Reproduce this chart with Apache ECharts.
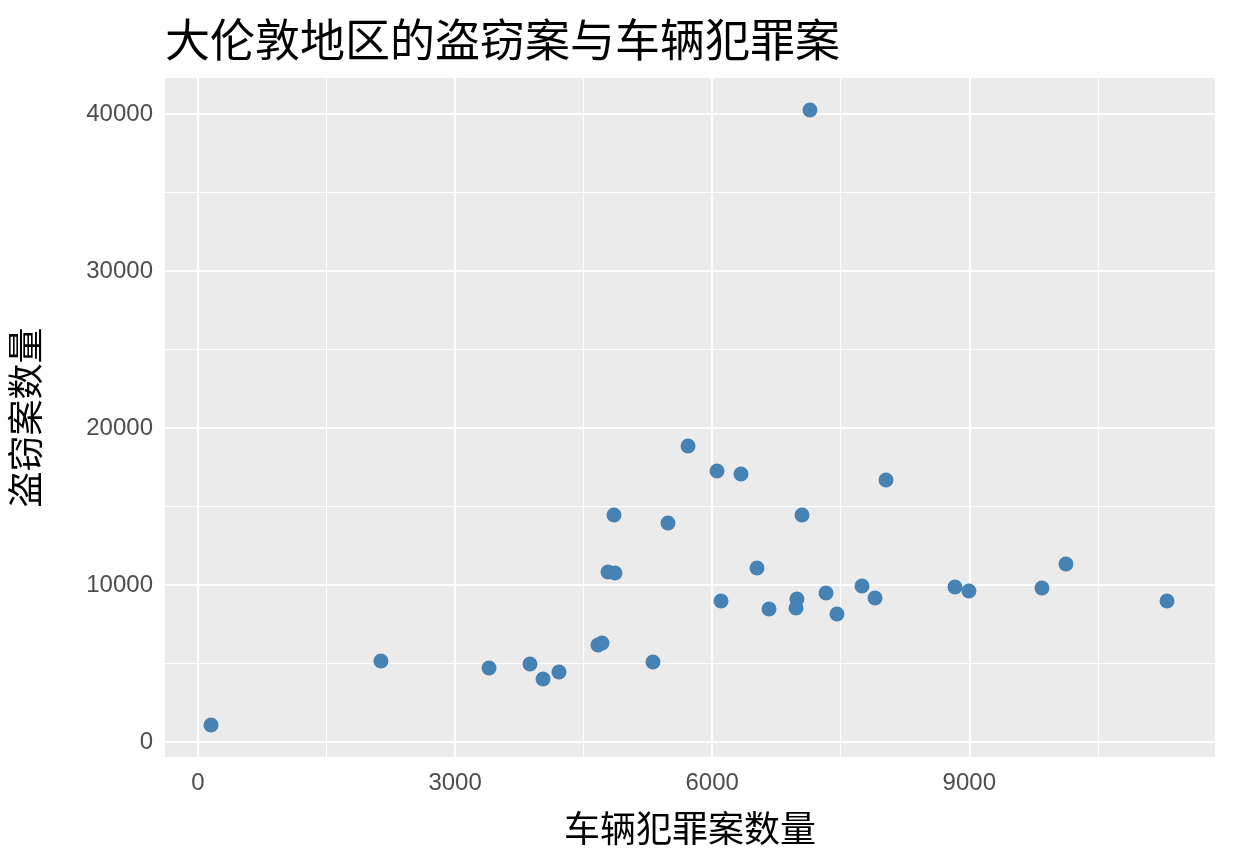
<!DOCTYPE html>
<html>
<head>
<meta charset="utf-8">
<script src="https://cdn.jsdelivr.net/npm/echarts@6/dist/echarts.min.js"></script>
<style>html,body{margin:0;background:#fff}#main{width:1234px;height:864px}</style>
</head>
<body>
<div id="main"></div>
<script>
// 车辆犯罪案数量, 盗窃案数量
var vehicle = [152, 2135, 3396, 3874, 4026, 4212, 4667, 4714, 4784, 4866, 4854, 5309, 5484, 5718, 6056, 6103, 6336, 6523, 6663, 6978, 6989, 7048, 7141, 7328, 7456, 7748, 7900, 8028, 8833, 8996, 9848, 10128, 11307];
var burglary = [1083, 5159, 4713, 4968, 4013, 4459, 6178, 6306, 10828, 10764, 14459, 5096, 13949, 18854, 17261, 8981, 17070, 11083, 8471, 8535, 9108, 14459, 40255, 9490, 8153, 9936, 9172, 16688, 9873, 9618, 9809, 11338, 8981];
var xTicks = [0, 3000, 6000, 9000];
var xMinor = [1500, 4500, 7500, 10500];
var yTicks = [0, 10000, 20000, 30000, 40000];
var yMinor = [5000, 15000, 25000, 35000];

var points = vehicle.map(function (v, i) { return [v, burglary[i]]; });

var gridLines = [];
xMinor.forEach(function (v) { gridLines.push({ xAxis: v, lineStyle: { width: 1 } }); });
yMinor.forEach(function (v) { gridLines.push({ yAxis: v, lineStyle: { width: 1 } }); });
xTicks.forEach(function (v) { gridLines.push({ xAxis: v, lineStyle: { width: 2.2 } }); });
yTicks.forEach(function (v) { gridLines.push({ yAxis: v, lineStyle: { width: 2.2 } }); });

var font = "'Noto Sans CJK SC', 'Noto Sans', sans-serif";
var numFont = "'Liberation Sans', Arial, sans-serif";
var myChart = echarts.init(document.getElementById("main"));
var option = {
  animation: false,
  title: {
    text: "大伦敦地区的盗窃案与车辆犯罪案",
    left: 160, top: 12,
    textStyle: { fontFamily: font, fontSize: 45, fontWeight: "normal", color: "#000" }
  },
  grid: { left: 165, right: 19, top: 78, bottom: 107, show: true, backgroundColor: "#ebebeb", borderWidth: 0, containLabel: false, outerBoundsMode: "none" },
  xAxis: {
    type: "value", min: -385, max: 11867,
    name: "车辆犯罪案数量", nameLocation: "middle", nameGap: 53,
    nameTextStyle: { fontFamily: font, fontSize: 36, color: "#000" },
    axisLine: { show: false },
    axisTick: { show: true, length: 6, lineStyle: { color: "#333" }, customValues: xTicks },
    axisLabel: { customValues: xTicks, formatter: function (v) { return String(v); }, fontFamily: numFont, fontSize: 24, color: "#4d4d4d", margin: 14 },
    splitLine: { show: false }
  },
  yAxis: {
    type: "value", min: -955, max: 42293,
    name: "盗窃案数量", nameLocation: "middle", nameGap: 122,
    nameTextStyle: { fontFamily: font, fontSize: 36, color: "#000" },
    axisLine: { show: false },
    axisTick: { show: true, length: 6, lineStyle: { color: "#333" }, customValues: yTicks },
    axisLabel: { customValues: yTicks, formatter: function (v) { return String(v); }, fontFamily: numFont, fontSize: 24, color: "#4d4d4d", margin: 12 },
    splitLine: { show: false }
  },
  series: [
    {
      type: "scatter", data: [], z: 1, silent: true,
      markLine: { symbol: "none", silent: true, label: { show: false }, lineStyle: { color: "#fff", type: "solid" }, data: gridLines }
    },
    {
      type: "scatter", data: points, z: 5, symbolSize: 15,
      itemStyle: { color: "#4682b4", opacity: 1 }
    }
  ]
};
myChart.setOption(option);
</script>
</body>
</html>
